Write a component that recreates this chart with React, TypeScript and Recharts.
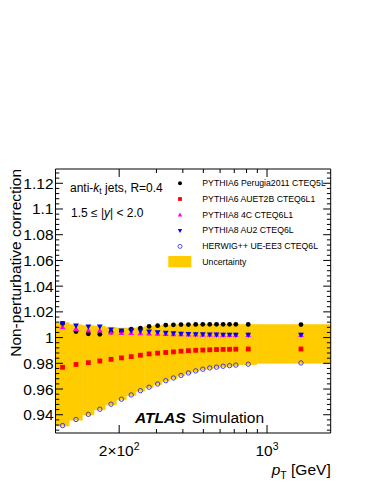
import { ComposedChart, Scatter, XAxis, YAxis, ReferenceArea } from "recharts";

const FONT = "'Liberation Sans', Arial, Helvetica, sans-serif";
const BAND = "#ffcc00";

// plot frame in page pixels
const PL = 55.5;
const PR = 330.7;
const PT = 169;
const PB = 433;

const X_MIN = 100;
const X_MAX = 2000;
const Y_MIN = 0.9258;
const Y_MAX = 1.1311;

// pT bins and bin centres
const binEdges = [100, 116, 134, 152, 172, 194, 216, 240, 264, 290, 318, 346, 376, 408, 442, 478, 516, 556, 598, 642, 688, 736, 894, 2000];
const ptX = [108, 125, 143, 162, 183, 205, 228, 252, 277, 304, 332, 361, 392, 425, 460, 497, 536, 577, 620, 665, 712, 815, 1447];

const perugia = [1.011, 1.0047, 1.0029, 1.0025, 1.0042, 1.005, 1.0065, 1.0074, 1.0087, 1.0093, 1.0097, 1.0099, 1.0101, 1.0101, 1.0102, 1.0103, 1.0103, 1.0103, 1.0103, 1.0103, 1.0103, 1.0102, 1.0101];
const auet2b = [0.9769, 0.9791, 0.9805, 0.9818, 0.9831, 0.9842, 0.9852, 0.9863, 0.9873, 0.9879, 0.9884, 0.9889, 0.9894, 0.9898, 0.9901, 0.9903, 0.9905, 0.9907, 0.9908, 0.9909, 0.991, 0.9911, 0.9911];
const py8_4c = [1.0082, 1.0068, 1.0055, 1.0055, 1.004, 1.0036, 1.0036, 1.0034, 1.0032, 1.003, 1.0028, 1.0027, 1.0026, 1.0025, 1.0024, 1.0023, 1.0022, 1.0022, 1.0021, 1.0021, 1.002, 1.002, 1.002];
const py8_au2 = [1.011, 1.0093, 1.0086, 1.0086, 1.0062, 1.0054, 1.0054, 1.0052, 1.0046, 1.004, 1.0036, 1.0032, 1.003, 1.0028, 1.0026, 1.0025, 1.0024, 1.0023, 1.0022, 1.0022, 1.0021, 1.0021, 1.0021];
const herwig = [0.9316, 0.9363, 0.9403, 0.9443, 0.9482, 0.9521, 0.9554, 0.9587, 0.9614, 0.9639, 0.9665, 0.9686, 0.9706, 0.9725, 0.9741, 0.9754, 0.9764, 0.977, 0.9777, 0.9782, 0.9786, 0.9793, 0.9803];

// uncertainty envelope per bin
const bandHigh = [1.0115, 1.0099, 1.0093, 1.009, 1.008, 1.0074, 1.0074, 1.0078, 1.0088, 1.0093, 1.0097, 1.0099, 1.0101, 1.0101, 1.0102, 1.0103, 1.0103, 1.0103, 1.0103, 1.0103, 1.0103, 1.0102, 1.0101];
const bandLow = [0.9312, 0.9358, 0.9398, 0.9438, 0.9477, 0.9516, 0.955, 0.9583, 0.961, 0.9635, 0.9661, 0.9682, 0.9702, 0.9721, 0.9737, 0.975, 0.976, 0.9766, 0.9773, 0.9778, 0.9782, 0.9789, 0.98];

const seriesNames = [
  "PYTHIA6 Perugia2011 CTEQ5L",
  "PYTHIA6 AUET2B CTEQ6L1",
  "PYTHIA8 4C CTEQ6L1",
  "PYTHIA8 AU2 CTEQ6L",
  "HERWIG++ UE-EE3 CTEQ6L",
];

const xTicks = [200, 300, 400, 500, 600, 700, 800, 900, 1000];
const xMajor = [200, 1000];
const yMajorTicks = [0.94, 0.96, 0.98, 1.0, 1.02, 1.04, 1.06, 1.08, 1.1, 1.12];
const yTicks: number[] = [];
for (let v = 0.928; v < 1.1305; v += 0.004) yTicks.push(Math.round(v * 1000) / 1000);

const toPts = (ys: number[]) => ptX.map((x, i) => ({ x, y: ys[i] }));

const dotShape = (p: any) => <circle cx={p.cx} cy={p.cy} r={2.4} fill="#000" />;
const squareShape = (p: any) => <rect x={p.cx - 2.4} y={p.cy - 2.4} width={4.8} height={4.8} fill="#ff0000" />;
const triUpShape = (p: any) => (
  <polygon points={`${p.cx},${p.cy - 3} ${p.cx - 2.9},${p.cy + 2.1} ${p.cx + 2.9},${p.cy + 2.1}`} fill="#ff00ff" />
);
const triDownShape = (p: any) => (
  <polygon points={`${p.cx},${p.cy + 3} ${p.cx - 2.9},${p.cy - 2.1} ${p.cx + 2.9},${p.cy - 2.1}`} fill="#0000ff" />
);
const openShape = (p: any) => <circle cx={p.cx} cy={p.cy} r={2.2} fill="none" stroke="#2a2aff" strokeWidth={0.9} />;

function XTick({ x, payload }: any) {
  const v = payload.value;
  const major = xMajor.includes(v);
  const len = major ? 8 : 4;
  return (
    <g>
      <line x1={x} x2={x} y1={PB} y2={PB - len} stroke="#000" />
      <line x1={x} x2={x} y1={PT} y2={PT + len} stroke="#000" />
      {v === 200 && (
        <text x={x} y={456} textAnchor="middle" fontSize={15.5} fontFamily={FONT} fill="#000">
          2×10<tspan fontSize={10.5} dy={-6}>2</tspan>
        </text>
      )}
      {v === 1000 && (
        <text x={x} y={456} textAnchor="middle" fontSize={15.5} fontFamily={FONT} fill="#000">
          10<tspan fontSize={10.5} dy={-6}>3</tspan>
        </text>
      )}
    </g>
  );
}

function YTick({ y, payload }: any) {
  const v = payload.value;
  const major = yMajorTicks.some((m) => Math.abs(m - v) < 1e-6);
  const len = major ? 7.5 : 3.8;
  return (
    <g>
      <line x1={PL} x2={PL + len} y1={y} y2={y} stroke="#000" />
      <line x1={PR} x2={PR - len} y1={y} y2={y} stroke="#000" />
      {major && (
        <text x={53.5} y={y} dy={5.5} textAnchor="end" fontSize={15.5} fontFamily={FONT} fill="#000">
          {String(Number(v.toFixed(2)))}
        </text>
      )}
    </g>
  );
}

function LegendBlock() {
  const x0 = 180;
  const tx = 202.3;
  const b0 = 186;
  const dy = 15.8;
  const marks = [
    (cy: number) => <circle cx={x0} cy={cy} r={2} fill="#000" />,
    (cy: number) => <rect x={x0 - 1.9} y={cy - 1.9} width={3.8} height={3.8} fill="#ff0000" />,
    (cy: number) => <polygon points={`${x0},${cy - 2.4} ${x0 - 2.2},${cy + 1.6} ${x0 + 2.2},${cy + 1.6}`} fill="#ff00ff" />,
    (cy: number) => <polygon points={`${x0},${cy + 2.4} ${x0 - 2.2},${cy - 1.6} ${x0 + 2.2},${cy - 1.6}`} fill="#0000ff" />,
    (cy: number) => <circle cx={x0} cy={cy} r={2} fill="none" stroke="#2a2aff" strokeWidth={0.8} />,
  ];
  return (
    <g>
      {seriesNames.map((name, i) => (
        <g key={name}>
          {marks[i](b0 + i * dy - 2.8)}
          <text x={tx} y={b0 + i * dy} fontSize={8.7} fontFamily={FONT} fill="#000">
            {name}
          </text>
        </g>
      ))}
      <rect x={168.3} y={256} width={23} height={11.3} fill={BAND} />
      <text x={tx} y={b0 + 5 * dy} fontSize={8.7} fontFamily={FONT} fill="#000">
        Uncertainty
      </text>
    </g>
  );
}

export default function App() {
  return (
    <div style={{ position: "absolute", left: 0, top: 0, width: 376, height: 487, background: "#fff" }}>
      <ComposedChart width={376} height={487} margin={{ top: PT, right: 376 - PR, bottom: 0, left: 0 }}>
        <XAxis
          dataKey="x"
          type="number"
          scale="log"
          domain={[X_MIN, X_MAX]}
          allowDataOverflow
          ticks={xTicks}
          interval={0}
          tick={XTick}
          tickLine={false}
          axisLine={false}
          height={487 - PB}
        />
        <YAxis
          dataKey="y"
          type="number"
          domain={[Y_MIN, Y_MAX]}
          allowDataOverflow
          ticks={yTicks}
          interval={0}
          tick={YTick}
          tickLine={false}
          axisLine={false}
          width={PL}
        />
        {bandHigh.map((hi, i) => (
          <ReferenceArea
            key={i}
            x1={binEdges[i]}
            x2={binEdges[i + 1]}
            y1={bandLow[i]}
            y2={hi}
            fill={BAND}
            fillOpacity={1}
            stroke={BAND}
            strokeWidth={0.6}
          />
        ))}
        <ReferenceArea x1={X_MIN} x2={X_MAX} y1={Y_MIN} y2={Y_MAX} fill="none" stroke="#000" strokeWidth={1} />
        <Scatter name={seriesNames[0]} data={toPts(perugia)} shape={dotShape} isAnimationActive={false} />
        <Scatter name={seriesNames[1]} data={toPts(auet2b)} shape={squareShape} isAnimationActive={false} />
        <Scatter name={seriesNames[2]} data={toPts(py8_4c)} shape={triUpShape} isAnimationActive={false} />
        <Scatter name={seriesNames[3]} data={toPts(py8_au2)} shape={triDownShape} isAnimationActive={false} />
        <Scatter name={seriesNames[4]} data={toPts(herwig)} shape={openShape} isAnimationActive={false} />

        <LegendBlock />
        <text x={70} y={191.5} fontSize={12} fontFamily={FONT} fill="#000">
          anti-<tspan fontStyle="italic">k</tspan>
          <tspan fontSize={8.5} dy={2.5}>t</tspan>
          <tspan dy={-2.5}> jets, R=0.4</tspan>
        </text>
        <text x={71} y={216.7} fontSize={12} fontFamily={FONT} fill="#000">
          1.5 ≤ |<tspan fontStyle="italic">y</tspan>| &lt; 2.0
        </text>
        <text x={135} y={423} fontSize={15.5} fontWeight="bold" fontStyle="italic" fontFamily={FONT} fill="#000">
          ATLAS
        </text>
        <text x={191.7} y={423} fontSize={15.5} fontFamily={FONT} fill="#000">
          Simulation
        </text>
        <text transform="rotate(-90)" x={-PT} y={20.7} textAnchor="end" fontSize={15.5} fontFamily={FONT} fill="#000">
          Non-perturbative correction
        </text>
        <text x={PR} y={475} textAnchor="end" fontSize={15.5} fontFamily={FONT} fill="#000">
          <tspan fontStyle="italic">p</tspan>
          <tspan fontSize={10.5} dy={4}>T</tspan>
          <tspan dy={-4}> [GeV]</tspan>
        </text>
      </ComposedChart>
    </div>
  );
}
